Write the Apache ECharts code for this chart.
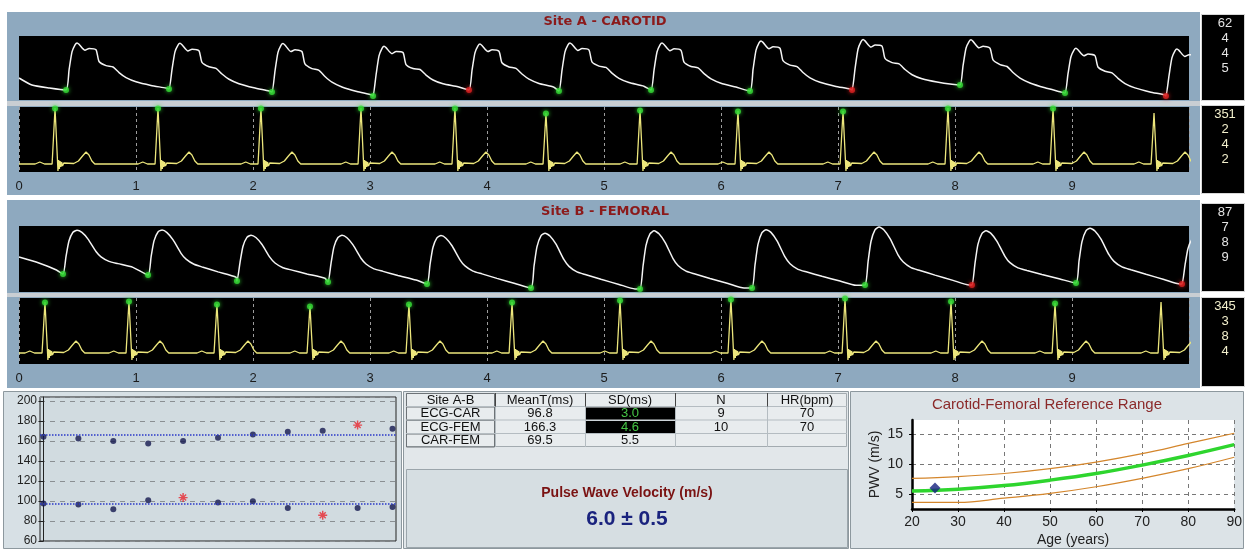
<!DOCTYPE html>
<html><head><meta charset="utf-8">
<script src="https://cdn.jsdelivr.net/npm/echarts@6/dist/echarts.min.js"></script>
<style>html,body{margin:0;padding:0;background:#fff}#c{width:1245px;height:550px}</style>
</head><body><div id="c"></div>
<script>
// ---------------- DATA ----------------
const TITLE_A = 'Site A - CAROTID';
const TITLE_B = 'Site B - FEMORAL';
const TIME_TICKS = [0,1,2,3,4,5,6,7,8,9];

// Site A carotid pressure: foot times (s), foot levels, peak levels, accepted flags
const CAR_PRE = [[0,22],[0.11,15],[0.26,12]];
const CAR_FOOT_T = [0.402,1.282,2.162,3.026,3.846,4.615,5.402,6.248,7.120,8.043,8.940,9.803];
const CAR_FOOT_V = [10,11,8,4,10,9,10,9,10,15,7,4];
const CAR_PEAK_V = [57,57,57,53,56,57,57,59,60,61,52,51];
const CAR_OK     = [1,1,1,1,0,1,1,1,0,1,1,0];
// carotid beat shape: time after foot (s) and fraction of amplitude
const CAR_SHAPE_DT = [0,0.026,0.051,0.077,0.094,0.111,0.162,0.197,0.256,0.282,0.342,0.402,0.453,0.513,0.598,0.726,0.855];
const CAR_SHAPE_F  = [0,0.43,0.81,0.96,1,0.97,0.84,0.88,0.85,0.60,0.51,0.48,0.36,0.25,0.16,0.08,0.02];

// Site B femoral pressure
const FEM_PRE = [[0,35],[0.17,29],[0.32,22]];
const FEM_FOOT_T = [0.376,1.103,1.863,2.641,3.487,4.376,5.308,6.265,7.231,8.145,9.034,9.940];
const FEM_FOOT_V = [18,17,11,10,8,4,3,4,7,7,9,8];
const FEM_PEAK_V = [62,63,57,57,57,59,61,62,65,61,64,55];
const FEM_OK     = [1,1,1,1,1,1,1,1,1,0,1,0];
const FEM_SHAPE_DT = [0,0.026,0.051,0.085,0.120,0.162,0.214,0.282,0.325,0.393,0.470,0.598,0.752,0.889];
const FEM_SHAPE_F  = [0,0.40,0.75,0.95,1,0.95,0.80,0.52,0.40,0.30,0.25,0.17,0.08,0];

// ECG: R-peak times (s), R amplitudes, baseline level, marker flags
const ECGA_R_T = [0.308,1.188,2.068,2.923,3.726,4.504,5.308,6.145,7.043,7.940,8.838,9.701];
const ECGA_R_V = [64,64,64,64,64,59,62,61,61,64,64,59];
const ECGA_MARK = [1,1,1,1,1,1,1,1,1,1,1,0];
const ECGA_BASE = 8;
const ECGB_R_T = [0.222,0.940,1.692,2.487,3.333,4.214,5.137,6.085,7.060,7.966,8.855,9.761];
const ECGB_R_V = [62,63,60,58,60,62,64,65,66,63,61,62];
const ECGB_MARK = [1,1,1,1,1,1,1,1,1,1,1,0];
const ECGB_BASE = 11;
// ECG complex shape: time from R (s), level above baseline (null = R peak)
const ECG_SHAPE_DT = [-0.17,-0.13,-0.09,-0.025,-0.01,0,0.025,0.031,0.037,0.043,0.05,0.056,0.064,0.075,0.09,0.16,0.20,0.235,0.265,0.29,0.315,0.34];
const ECG_SHAPE_V  = [0,2,0,0,-1,null,-7,4,-5,3,-3,2,-2,1,0,0.5,3,8,12,9,3,0];

// side boxes
const BOX_A_PRESS = ['62','4','4','5'];
const BOX_A_ECG   = ['351','2','4','2'];
const BOX_B_PRESS = ['87','7','8','9'];
const BOX_B_ECG   = ['345','3','8','4'];

// transit times scatter (ms)
const TT_FEM = [164.3,162.6,159.9,157.6,159.9,163.2,166.6,169.3,170.3,175.9,172.3];
const TT_FEM_OUT = [9];
const TT_CAR = [97.4,96.4,91.8,100.8,103.4,98.4,99.8,93.1,85.7,93.1,94.1];
const TT_CAR_OUT = [4,8];
const MEAN_FEM = 166.3;
const MEAN_CAR = 96.8;

// table
const TABLE_HEAD = ['Site A-B','MeanT(ms)','SD(ms)','N','HR(bpm)'];
const TABLE_ROWS = [
  ['ECG-CAR','96.8','3.0','9','70'],
  ['ECG-FEM','166.3','4.6','10','70'],
  ['CAR-FEM','69.5','5.5','','']
];
const PWV_LABEL = 'Pulse Wave Velocity (m/s)';
const PWV_VALUE = '6.0 \u00B1 0.5';

// reference range
const REF_TITLE = 'Carotid-Femoral Reference Range';
const REF_AGE  = [20,30,40,50,60,70,80,90];
const REF_MEAN = [5.5,5.8,6.4,7.3,8.4,9.8,11.4,13.2];
const REF_UP   = [7.6,7.9,8.4,9.2,10.3,11.7,13.4,15.1];
const REF_LOW  = [3.6,3.6,4.3,5.1,6.2,7.6,9.2,11.1];
const PATIENT  = [25, 6.0];

// ---------------- BUILD ----------------
function pressureTrace(pre, footT, footV, peakV, dt, fr) {
  const pts = pre.map(p => p.slice());
  for (let i = 0; i < footT.length; i++) {
    const last = i === footT.length - 1;
    const period = last ? Infinity : footT[i+1] - footT[i];
    const nextV = last ? footV[i] : footV[i+1];
    for (let k = 0; k < dt.length; k++) {
      if (k > 0 && dt[k] >= period - 0.004) break;
      const base = last ? footV[i] : footV[i] + (nextV - footV[i]) * dt[k] / period;
      pts.push([footT[i] + dt[k], base + fr[k] * (peakV[i] - footV[i])]);
    }
  }
  return pts;
}
function ecgTrace(rT, rV, base, dt, vals) {
  const pts = [[0, base]];
  rT.forEach((t0, i) => {
    dt.forEach((d, k) => {
      const t = t0 + d;
      if (t <= 0) return;
      pts.push([t, vals[k] === null ? rV[i] : base + vals[k]]);
    });
  });
  return pts;
}
const GREEN = '#37dd37', RED = '#e02222';
function dots(ts, vs, flags, onlyFlagged) {
  const out = [];
  ts.forEach((t, i) => {
    if (onlyFlagged && !flags[i]) return;
    const c = onlyFlagged ? GREEN : (flags[i] ? GREEN : RED);
    out.push({value: [t, vs[i]], itemStyle: {color: c, shadowBlur: 4, shadowColor: c}});
  });
  return out;
}

const FONT = 'Liberation Sans';
const g = [];
function rect(x, y, w, h, fill, stroke, z, lw) {
  g.push({type: 'rect', silent: true, z: z === undefined ? -10 : z,
    shape: {x: x, y: y, width: w, height: h},
    style: {fill: fill, stroke: stroke || null, lineWidth: lw || 1}});
}
function line(x1, y1, x2, y2, stroke, z) {
  g.push({type: 'line', silent: true, z: z === undefined ? 5 : z,
    shape: {x1: x1, y1: y1, x2: x2, y2: y2}, style: {stroke: stroke, lineWidth: 1}});
}
function text(str, x, y, fill, size, weight, family, align) {
  g.push({type: 'text', silent: true, z: 50, x: x, y: y,
    style: {text: str, fill: fill, fontSize: size, fontWeight: weight || 'normal',
      fontFamily: family || FONT, align: align || 'center', verticalAlign: 'middle'}});
}

// panels
rect(7, 12, 1193, 183, '#8ea9bf');
rect(7, 200, 1193, 188, '#8ea9bf');
rect(7, 101, 1193, 5, '#c9ced3');
rect(7, 293, 1193, 4, '#c9ced3');
text(TITLE_A, 605, 22, '#8b1a1a', 13, 'bold', 'DejaVu Sans');
text(TITLE_B, 605, 212, '#8b1a1a', 13, 'bold', 'DejaVu Sans');
function sideBox(y, h, vals, col) {
  rect(1201.5, y + 0.5, 43, h, '#000', '#d8d8d8', -9);
  vals.forEach((v, i) => text(v, 1225, y + 9 + i * 15, col, 13));
}
sideBox(14, 86, BOX_A_PRESS, '#e4e4e4');
sideBox(105, 88, BOX_A_ECG, '#f2efcc');
sideBox(203, 88, BOX_B_PRESS, '#e4e4e4');
sideBox(297, 89, BOX_B_ECG, '#f2efcc');

// bottom panels
rect(3.5, 391.5, 398, 157, '#d7e0e5', '#8d989e');
rect(403.5, 391.5, 445, 157, '#e2e7ea', '#8d989e');
rect(850.5, 391.5, 393, 157, '#dce3e7', '#8d989e');

// table
const COLS = [406, 495, 585, 675, 767, 847];
const ROWY = [393, 406.5, 420, 433.5, 447];
rect(406.5, 393.5, 440, 53, '#e8ecee', '#a3abb0', -8);
for (let r = 1; r < 4; r++) line(406, ROWY[r], 847, ROWY[r], '#b4bcc1');
for (let c = 1; c < 5; c++) line(COLS[c] + 0.5, ROWY[0], COLS[c] + 0.5, ROWY[4], '#b4bcc1');
for (let c = 1; c < 5; c++) line(COLS[c] + 0.5, ROWY[0], COLS[c] + 0.5, ROWY[1], '#444');
for (let r = 0; r < 4; r++) rect(406.5, ROWY[r] + 0.5, 88, 13, 'rgba(0,0,0,0)', '#6d7377', -7);
TABLE_HEAD.forEach((h, c) => text(h, (COLS[c] + COLS[c+1]) / 2, (ROWY[0] + ROWY[1]) / 2 + 0.5, '#111', 13));
TABLE_ROWS.forEach((row, r) => {
  row.forEach((v, c) => {
    const cy = (ROWY[r+1] + ROWY[r+2]) / 2 + 0.5;
    let col = '#111';
    if (c === 2 && row[3] !== '') {
      rect(586, ROWY[r+1] + 1, 89, 12, '#000', null, 6);
      col = '#45c545';
    }
    text(v, (COLS[c] + COLS[c+1]) / 2, cy, col, 13);
  });
});
rect(406.5, 469.5, 441, 78, '#d6dee2', '#9ba5ab', -8);
text(PWV_LABEL, 627, 493, '#7a1212', 14, 'bold');
text(PWV_VALUE, 627, 519, '#1a237e', 21, 'bold');
text(REF_TITLE, 1047, 405, '#8b2a2a', 15);

// ---------------- OPTION ----------------
const carPts = pressureTrace(CAR_PRE, CAR_FOOT_T, CAR_FOOT_V, CAR_PEAK_V, CAR_SHAPE_DT, CAR_SHAPE_F);
const femPts = pressureTrace(FEM_PRE, FEM_FOOT_T, FEM_FOOT_V, FEM_PEAK_V, FEM_SHAPE_DT, FEM_SHAPE_F);
const ecgA = ecgTrace(ECGA_R_T, ECGA_R_V, ECGA_BASE, ECG_SHAPE_DT, ECG_SHAPE_V);
const ecgB = ecgTrace(ECGB_R_T, ECGB_R_V, ECGB_BASE, ECG_SHAPE_DT, ECG_SHAPE_V);

function timeAxis(idx, labels) {
  return {gridIndex: idx, type: 'value', min: 0, max: 10, interval: 1, show: true,
    axisLine: {show: false}, axisTick: {show: false},
    axisLabel: {show: labels, color: '#1c1c1c', fontSize: 13, fontFamily: FONT, margin: 8,
      formatter: v => TIME_TICKS.indexOf(v) >= 0 ? String(v) : ''},
    splitLine: {show: labels, lineStyle: {color: '#9c9c9c', type: [3, 3], width: 1}}};
}
function hiddenY(idx, max) {
  return {gridIndex: idx, type: 'value', min: 0, max: max, show: false, splitLine: {show: false}};
}
const blackGrid = (top, h) => ({left: 19, top: top, width: 1170, height: h, show: true,
  backgroundColor: '#000', borderWidth: 0});

const scatterDots = (vals, outs) => vals.map((v, i) => outs.indexOf(i) >= 0 ? null : [i, v]).filter(Boolean);
const scatterStars = (vals, outs) => outs.map(i => [i, vals[i]]);
const STAR = 'path://M-0.8,-5L0.8,-5L0.8,5L-0.8,5Z M-5,-0.8L5,-0.8L5,0.8L-5,0.8Z M-3.9,-2.8L-2.8,-3.9L3.9,2.8L2.8,3.9Z M2.8,-3.9L3.9,-2.8L-2.8,3.9L-3.9,2.8Z';

const option = {
  animation: false,
  backgroundColor: '#ffffff',
  grid: [
    blackGrid(36, 64), blackGrid(107, 65), blackGrid(226, 66), blackGrid(298, 66),
    {left: 40, top: 397, width: 356, height: 144, show: true, backgroundColor: '#d1dbe0', borderColor: '#222', borderWidth: 1},
    {left: 912, top: 420, width: 325, height: 89, show: true, backgroundColor: '#fff', borderWidth: 0}
  ],
  xAxis: [
    timeAxis(0, false), timeAxis(1, true), timeAxis(2, false), timeAxis(3, true),
    {gridIndex: 4, type: 'value', min: -0.1, max: 10.1, show: false},
    {gridIndex: 5, type: 'value', min: 20, max: 90, interval: 10,
      axisLine: {show: true, lineStyle: {color: '#000', width: 2.5}},
      axisTick: {show: true, length: 3, lineStyle: {color: '#000'}},
      axisLabel: {color: '#222', fontSize: 14, fontFamily: FONT, margin: 6},
      splitLine: {show: true, lineStyle: {color: '#777', type: [4, 4]}},
      name: 'Age (years)', nameLocation: 'middle', nameGap: 24,
      nameTextStyle: {color: '#222', fontSize: 14, fontFamily: FONT}}
  ],
  yAxis: [
    hiddenY(0, 64), hiddenY(1, 65), hiddenY(2, 66), hiddenY(3, 66),
    {gridIndex: 4, type: 'value', min: 60, max: 204, interval: 20,
      axisLine: {show: true, lineStyle: {color: '#222'}},
      axisTick: {show: true, length: 5, lineStyle: {color: '#222'}},
      axisLabel: {color: '#222', fontSize: 12, fontFamily: FONT, margin: 3, showMaxLabel: false,
        formatter: v => v % 20 === 0 ? String(v) : ''},
      splitLine: {show: true, lineStyle: {color: '#8a8f93', type: [5, 5]}}},
    {gridIndex: 5, type: 'value', min: 2.5, max: 17.3,
      axisLine: {show: true, lineStyle: {color: '#000', width: 2.5}},
      axisTick: {show: true, length: 3, customValues: [5, 10, 15], lineStyle: {color: '#000'}},
      axisLabel: {color: '#222', fontSize: 14, fontFamily: FONT, margin: 9, customValues: [5, 10, 15]},
      splitLine: {show: true, lineStyle: {color: '#777', type: [4, 4]}},
      name: 'PWV (m/s)', nameLocation: 'middle', nameGap: 30, nameRotate: 90,
      nameTextStyle: {color: '#222', fontSize: 14, fontFamily: FONT}}
  ],
  series: [
    {type: 'line', xAxisIndex: 0, yAxisIndex: 0, data: carPts, showSymbol: false, smooth: 0.2,
      lineStyle: {color: '#f4f4f4', width: 1.5}, silent: true},
    {type: 'scatter', xAxisIndex: 0, yAxisIndex: 0, symbolSize: 6, data: dots(CAR_FOOT_T, CAR_FOOT_V, CAR_OK, false), z: 5},
    {type: 'line', xAxisIndex: 1, yAxisIndex: 1, data: ecgA, showSymbol: false,
      lineStyle: {color: '#ece67c', width: 1.3}, silent: true},
    {type: 'scatter', xAxisIndex: 1, yAxisIndex: 1, symbolSize: 6, data: dots(ECGA_R_T, ECGA_R_V.map(v => v - 0.5), ECGA_MARK, true), z: 5},
    {type: 'line', xAxisIndex: 2, yAxisIndex: 2, data: femPts, showSymbol: false, smooth: 0.2,
      lineStyle: {color: '#f4f4f4', width: 1.5}, silent: true},
    {type: 'scatter', xAxisIndex: 2, yAxisIndex: 2, symbolSize: 6, data: dots(FEM_FOOT_T, FEM_FOOT_V, FEM_OK, false), z: 5},
    {type: 'line', xAxisIndex: 3, yAxisIndex: 3, data: ecgB, showSymbol: false,
      lineStyle: {color: '#ece67c', width: 1.3}, silent: true},
    {type: 'scatter', xAxisIndex: 3, yAxisIndex: 3, symbolSize: 6, data: dots(ECGB_R_T, ECGB_R_V.map(v => v - 0.5), ECGB_MARK, true), z: 5},

    {type: 'scatter', xAxisIndex: 4, yAxisIndex: 4, symbolSize: 6, data: scatterDots(TT_FEM, TT_FEM_OUT),
      itemStyle: {color: '#14184f'}, z: 4,
      markLine: {silent: true, symbol: ['none', 'none'], label: {show: false},
        lineStyle: {color: '#2a38c8', type: [1.5, 1.5], width: 1.5},
        data: [{yAxis: MEAN_FEM}, {yAxis: MEAN_CAR}]}},
    {type: 'scatter', xAxisIndex: 4, yAxisIndex: 4, symbolSize: 6, data: scatterDots(TT_CAR, TT_CAR_OUT),
      itemStyle: {color: '#14184f'}, z: 4},
    {type: 'scatter', xAxisIndex: 4, yAxisIndex: 4, symbol: STAR, symbolSize: 9,
      data: scatterStars(TT_FEM, TT_FEM_OUT).concat(scatterStars(TT_CAR, TT_CAR_OUT)),
      itemStyle: {color: '#e8252e'}, z: 4},

    {type: 'line', xAxisIndex: 5, yAxisIndex: 5, data: REF_AGE.map((a, i) => [a, REF_UP[i]]), smooth: 0.4,
      showSymbol: false, lineStyle: {color: '#d4862c', width: 1.2}, silent: true},
    {type: 'line', xAxisIndex: 5, yAxisIndex: 5, data: REF_AGE.map((a, i) => [a, REF_LOW[i]]), smooth: 0.4,
      showSymbol: false, lineStyle: {color: '#d4862c', width: 1.2}, silent: true},
    {type: 'line', xAxisIndex: 5, yAxisIndex: 5, data: REF_AGE.map((a, i) => [a, REF_MEAN[i]]), smooth: 0.4,
      showSymbol: false, lineStyle: {color: '#2ed52e', width: 3.5}, silent: true},
    {type: 'scatter', xAxisIndex: 5, yAxisIndex: 5, symbol: 'diamond', symbolSize: 11, data: [PATIENT],
      itemStyle: {color: '#14207e'}, z: 6}
  ],
  graphic: g
};
const chart = echarts.init(document.getElementById('c'), null, {renderer: 'canvas'});
chart.setOption(option);
</script></body></html>
